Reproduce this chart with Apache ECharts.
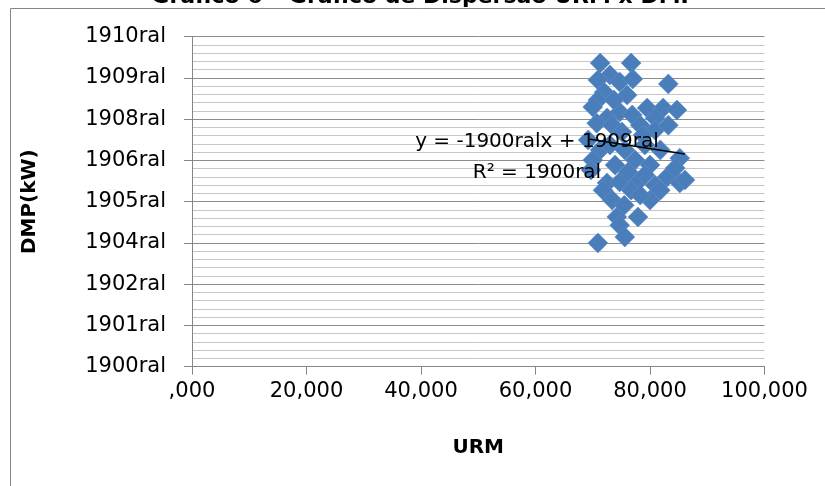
<!DOCTYPE html>
<html>
<head>
<meta charset="utf-8">
<script src="https://cdn.jsdelivr.net/npm/echarts@6/dist/echarts.min.js"></script>
<style>
  html, body { margin: 0; padding: 0; background: #ffffff; }
  #chart { width: 825px; height: 486px; }
</style>
</head>
<body>
<div id="chart"></div>
<script>
// URM (x) and DMP (y) readings for each observation
const urm = [
  71.3, 76.7, 73.0, 70.9, 74.7, 77.0, 83.2, 72.0, 70.9, 76.0,
  70.0, 74.7, 79.5, 82.3, 84.7, 76.9, 72.5, 80.9, 70.7, 73.4,
  75.1, 78.3, 80.9, 83.2, 69.2, 71.3, 73.0, 75.6, 79.1, 81.8,
  85.2, 77.4, 70.0, 69.7, 72.5, 74.7, 77.7, 80.0, 83.0, 85.2,
  86.1, 71.8, 76.7, 80.9, 84.4, 80.0, 78.3, 74.2, 77.9, 74.7,
  75.6, 70.9, 73.9, 76.2, 79.1, 81.8, 73.4, 75.5, 78.8, 73.7
];
const dmp = [
  1909.20, 1909.20, 1908.84, 1908.69, 1908.63, 1908.72, 1908.57, 1908.32, 1908.08, 1908.23,
  1907.87, 1907.72, 1907.84, 1907.84, 1907.78, 1907.63, 1907.54, 1907.54, 1907.38, 1907.32,
  1907.11, 1907.32, 1907.17, 1907.32, 1906.87, 1906.57, 1906.72, 1906.57, 1906.72, 1906.57,
  1906.32, 1906.26, 1906.26, 1905.96, 1905.57, 1905.60, 1905.57, 1906.11, 1905.75, 1905.57,
  1905.66, 1905.35, 1905.35, 1905.50, 1906.02, 1905.05, 1905.20, 1904.54, 1904.54, 1904.29,
  1903.93, 1903.75, 1906.11, 1905.90, 1905.81, 1905.35, 1905.05, 1904.89, 1907.02, 1908.08
];

// Linear trend line coefficients (DMP = slope * URM + intercept)
const trendSlope = -0.027;
const trendIntercept = 1908.77;

// Axis tick labels as printed
const xTickLabels = [',000', '20,000', '40,000', '60,000', '80,000', '100,000'];
const yTickLabels = ['1900ral', '1901ral', '1902ral', '1904ral', '1905ral', '1906ral', '1908ral', '1909ral', '1910ral'];

const titleText = 'Gráfico 6 – Gráfico de Dispersão URM x DMP';
const equationText = 'y = -1900ralx + 1909ral';
const r2Text = 'R² = 1900ral';

const X_MIN = 0, X_MAX = 100, X_STEP = 20;
const Y_MIN = 1900, Y_MAX = 1910, Y_STEP = 1.25;

const points = urm.map((x, i) => [x, dmp[i]]);
const xLo = Math.min(...urm), xHi = Math.max(...urm);
const trendPoints = [
  [xLo, trendSlope * xLo + trendIntercept],
  [xHi, trendSlope * xHi + trendIntercept]
];

const FONT = '"DejaVu Sans", "Liberation Sans", sans-serif';
const axisGray = '#868686';

const chart = echarts.init(document.getElementById('chart'), null, { renderer: 'canvas' });

chart.setOption({
  animation: false,
  backgroundColor: '#ffffff',
  grid: {
    left: 192, right: 60.5, top: 36.7, bottom: 119.3,
    outerBoundsMode: 'none'
  },
  xAxis: {
    type: 'value',
    min: X_MIN, max: X_MAX, interval: X_STEP,
    name: 'URM',
    nameLocation: 'middle',
    nameGap: 71,
    nameTextStyle: { fontFamily: FONT, fontSize: 20, fontWeight: 'bold', color: '#000' },
    axisLine: { show: true, lineStyle: { color: axisGray, width: 1 } },
    axisTick: { show: true, length: 8, lineStyle: { color: axisGray } },
    axisLabel: {
      margin: 14,
      fontFamily: FONT, fontSize: 21, color: '#000',
      formatter: v => xTickLabels[Math.round((v - X_MIN) / X_STEP)]
    },
    splitLine: { show: false }
  },
  yAxis: {
    type: 'value',
    min: Y_MIN, max: Y_MAX, interval: Y_STEP,
    name: 'DMP(kW)',
    nameLocation: 'middle',
    nameGap: 152,
    nameTextStyle: { fontFamily: FONT, fontSize: 20, fontWeight: 'bold', color: '#000' },
    axisLine: { show: true, lineStyle: { color: axisGray, width: 1 } },
    axisTick: { show: true, length: 8, lineStyle: { color: axisGray } },
    axisLabel: {
      margin: 26,
      fontFamily: FONT, fontSize: 21, color: '#000',
      formatter: v => yTickLabels[Math.round((v - Y_MIN) / Y_STEP)]
    },
    splitLine: { show: true, lineStyle: { color: '#8c8c8c', width: 1 } },
    minorTick: { show: false, splitNumber: 5 },
    minorSplitLine: { show: true, lineStyle: { color: '#c6c6c6', width: 1 } }
  },
  series: [
    {
      type: 'scatter',
      data: points,
      symbol: 'diamond',
      symbolSize: 20,
      itemStyle: { color: '#4A7EBB', opacity: 1, borderColor: '#5f8fca', borderWidth: 0.6 },
      z: 3
    },
    {
      type: 'line',
      data: trendPoints,
      symbol: 'none',
      lineStyle: { color: '#000', width: 1.5 },
      z: 4
    }
  ],
  graphic: [
    {
      type: 'rect',
      shape: { x: 10.5, y: 8.5, width: 900, height: 600 },
      style: { fill: 'none', stroke: axisGray, lineWidth: 1 },
      z: -10, silent: true
    },
    {
      type: 'text',
      x: 424, y: -14,
      style: {
        text: titleText, fill: '#000',
        font: 'bold 22px ' + FONT,
        textAlign: 'center', textVerticalAlign: 'top'
      },
      z: 100
    },
    {
      type: 'text',
      x: 537, y: 142,
      style: {
        text: equationText, fill: '#000',
        font: '20px ' + FONT,
        textAlign: 'center', textVerticalAlign: 'middle'
      },
      z: 100
    },
    {
      type: 'text',
      x: 537, y: 173,
      style: {
        text: r2Text, fill: '#000',
        font: '20px ' + FONT,
        textAlign: 'center', textVerticalAlign: 'middle'
      },
      z: 100
    }
  ]
});
</script>
</body>
</html>
